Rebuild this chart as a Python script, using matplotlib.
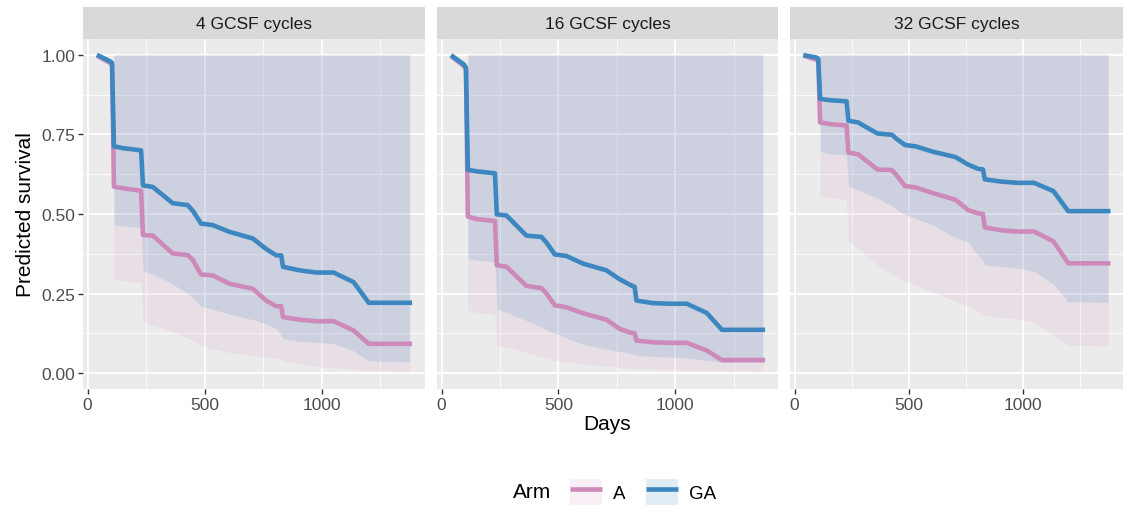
import matplotlib
matplotlib.use("Agg")
import matplotlib.pyplot as plt
import numpy as np
from matplotlib.patches import Patch
from matplotlib.lines import Line2D

plt.rcParams['font.family'] = ['Liberation Sans', 'DejaVu Sans']

# shared time grid (days)
days = [48, 95, 104, 112, 150, 228, 236, 278, 363, 427, 449, 484, 534, 605,
        705, 762, 805, 826, 834, 904, 976, 1050, 1135, 1200, 1375]
panels = ["4 GCSF cycles", "16 GCSF cycles", "32 GCSF cycles"]

# predicted survival, arm GA
ga_4 = [0.997, 0.98, 0.975, 0.713, 0.707, 0.70, 0.59, 0.585, 0.534, 0.528, 0.51, 0.47, 0.465,
        0.444, 0.423, 0.39, 0.37, 0.37, 0.334, 0.323, 0.316, 0.316, 0.286, 0.221, 0.221]
ga_16 = [0.995, 0.97, 0.96, 0.639, 0.634, 0.628, 0.499, 0.495, 0.432, 0.428, 0.41, 0.373, 0.368,
         0.344, 0.323, 0.295, 0.278, 0.271, 0.228, 0.22, 0.218, 0.218, 0.189, 0.136, 0.136]
ga_32 = [0.998, 0.992, 0.988, 0.862, 0.858, 0.854, 0.793, 0.788, 0.753, 0.749, 0.735, 0.717, 0.712,
         0.696, 0.679, 0.655, 0.642, 0.640, 0.609, 0.602, 0.598, 0.598, 0.572, 0.509, 0.509]
# predicted survival, arm A
a_4 = [0.994, 0.975, 0.968, 0.586, 0.581, 0.573, 0.434, 0.432, 0.376, 0.371, 0.355, 0.31, 0.307,
       0.281, 0.265, 0.228, 0.21, 0.21, 0.176, 0.168, 0.163, 0.163, 0.134, 0.092, 0.092]
a_16 = [0.992, 0.965, 0.955, 0.492, 0.484, 0.478, 0.339, 0.334, 0.274, 0.267, 0.25, 0.213, 0.207,
        0.188, 0.168, 0.139, 0.128, 0.125, 0.102, 0.097, 0.095, 0.095, 0.071, 0.041, 0.041]
a_32 = [0.996, 0.985, 0.98, 0.788, 0.783, 0.778, 0.693, 0.688, 0.640, 0.638, 0.62, 0.588, 0.583,
        0.566, 0.545, 0.512, 0.502, 0.500, 0.458, 0.449, 0.445, 0.445, 0.414, 0.345, 0.345]

# confidence bands start at day 112 (index 3); upper bound is 1.0
band_days = days[3:]
ga_lo_4 = [0.466, 0.462, 0.458, 0.322, 0.31, 0.28, 0.25, 0.235, 0.21, 0.2, 0.185, 0.168, 0.155,
           0.14, 0.12, 0.108, 0.10, 0.097, 0.092, 0.07, 0.039, 0.035]
ga_lo_16 = [0.36, 0.355, 0.35, 0.202, 0.19, 0.165, 0.145, 0.135, 0.125, 0.11, 0.09, 0.075, 0.068,
            0.062, 0.058, 0.055, 0.052, 0.05, 0.048, 0.04, 0.034, 0.033]
ga_lo_32 = [0.696, 0.69, 0.685, 0.588, 0.575, 0.55, 0.525, 0.515, 0.498, 0.485, 0.465, 0.425, 0.41,
            0.37, 0.355, 0.34, 0.335, 0.33, 0.32, 0.28, 0.224, 0.222]
a_lo_4 = [0.297, 0.29, 0.285, 0.16, 0.15, 0.13, 0.11, 0.10, 0.086, 0.075, 0.065, 0.055, 0.05,
          0.045, 0.043, 0.04, 0.03, 0.02, 0.018, 0.012, 0.008, 0.005]
a_lo_16 = [0.197, 0.19, 0.185, 0.086, 0.08, 0.065, 0.05, 0.046, 0.04, 0.035, 0.028, 0.022, 0.018,
           0.015, 0.014, 0.013, 0.012, 0.01, 0.009, 0.008, 0.007, 0.006]
a_lo_32 = [0.557, 0.55, 0.545, 0.414, 0.39, 0.34, 0.31, 0.30, 0.287, 0.275, 0.255, 0.225, 0.21,
           0.195, 0.185, 0.181, 0.175, 0.17, 0.16, 0.12, 0.088, 0.086]
band_hi = [1.0] * len(band_days)

ga_lines = [ga_4, ga_16, ga_32]
a_lines = [a_4, a_16, a_32]
ga_lows = [ga_lo_4, ga_lo_16, ga_lo_32]
a_lows = [a_lo_4, a_lo_16, a_lo_32]

col_a = '#CC89BA'
col_ga = '#3C87BF'
lw = 3.3
W, H = 1125, 510
fig = plt.figure(figsize=(W / 100, H / 100), dpi=100)

lefts = [83, 437, 790]
widths = [342, 341, 333]
top, bottom = 40, 390

for i in range(3):
    ax = fig.add_axes([lefts[i] / W, (H - bottom) / H, widths[i] / W, (bottom - top) / H])
    ax.set_facecolor('#EBEBEB')
    ax.fill_between(band_days, a_lows[i], band_hi, color=col_a, alpha=0.12, lw=0)
    ax.fill_between(band_days, ga_lows[i], band_hi, color=col_ga, alpha=0.15, lw=0)
    ax.plot(days, a_lines[i], color=col_a, lw=lw)
    ax.plot(days, ga_lines[i], color=col_ga, lw=lw)
    ax.set_xlim(-20, 1440)
    ax.set_ylim(-0.05, 1.05)
    ax.set_xticks([0, 500, 1000])
    ax.set_xticks([250, 750, 1250], minor=True)
    ax.set_yticks([0, 0.25, 0.5, 0.75, 1.0])
    ax.set_yticks([0.125, 0.375, 0.625, 0.875], minor=True)
    ax.grid(which='major', color='white', lw=1.3)
    ax.grid(which='minor', color='white', lw=0.6)
    ax.set_axisbelow(True)
    for s in ax.spines.values():
        s.set_visible(False)
    ax.tick_params(which='major', length=3.5, width=1, color='#333333',
                   labelsize=12.5, labelcolor='#4D4D4D', pad=2)
    ax.tick_params(which='minor', length=0)
    if i == 0:
        ax.set_yticklabels(['0.00', '0.25', '0.50', '0.75', '1.00'])
        ax.set_ylabel('Predicted survival', fontsize=15, labelpad=5)
    else:
        ax.tick_params(axis='y', which='major', labelleft=False, length=0)
    if i == 1:
        ax.set_xlabel('Days', fontsize=15, labelpad=2)
    # facet strip
    sax = fig.add_axes([lefts[i] / W, (H - top) / H, widths[i] / W, 32 / H])
    sax.set_facecolor('#D9D9D9')
    sax.set_xticks([])
    sax.set_yticks([])
    for s in sax.spines.values():
        s.set_visible(False)
    sax.text(0.5, 0.5, panels[i], ha='center', va='center', fontsize=12.5, color='#1A1A1A',
             transform=sax.transAxes)

# legend
fig.text(513 / W, 1 - 493 / H, 'Arm', fontsize=15, va='center', ha='left')
h_a = (Patch(facecolor=col_a, alpha=0.12, lw=0),
       Line2D([], [], color=col_a, lw=lw, solid_capstyle='butt'))
h_ga = (Patch(facecolor=col_ga, alpha=0.15, lw=0),
        Line2D([], [], color=col_ga, lw=lw, solid_capstyle='butt'))
fig.legend([h_a, h_ga], ['A', 'GA'], ncol=2, loc='center left',
           bbox_to_anchor=(553 / W, 1 - 493 / H), frameon=False, fontsize=13.5,
           handlelength=1.7, handleheight=1.7, columnspacing=1.1, handletextpad=0.6)

fig.savefig('out.png', dpi=100)
